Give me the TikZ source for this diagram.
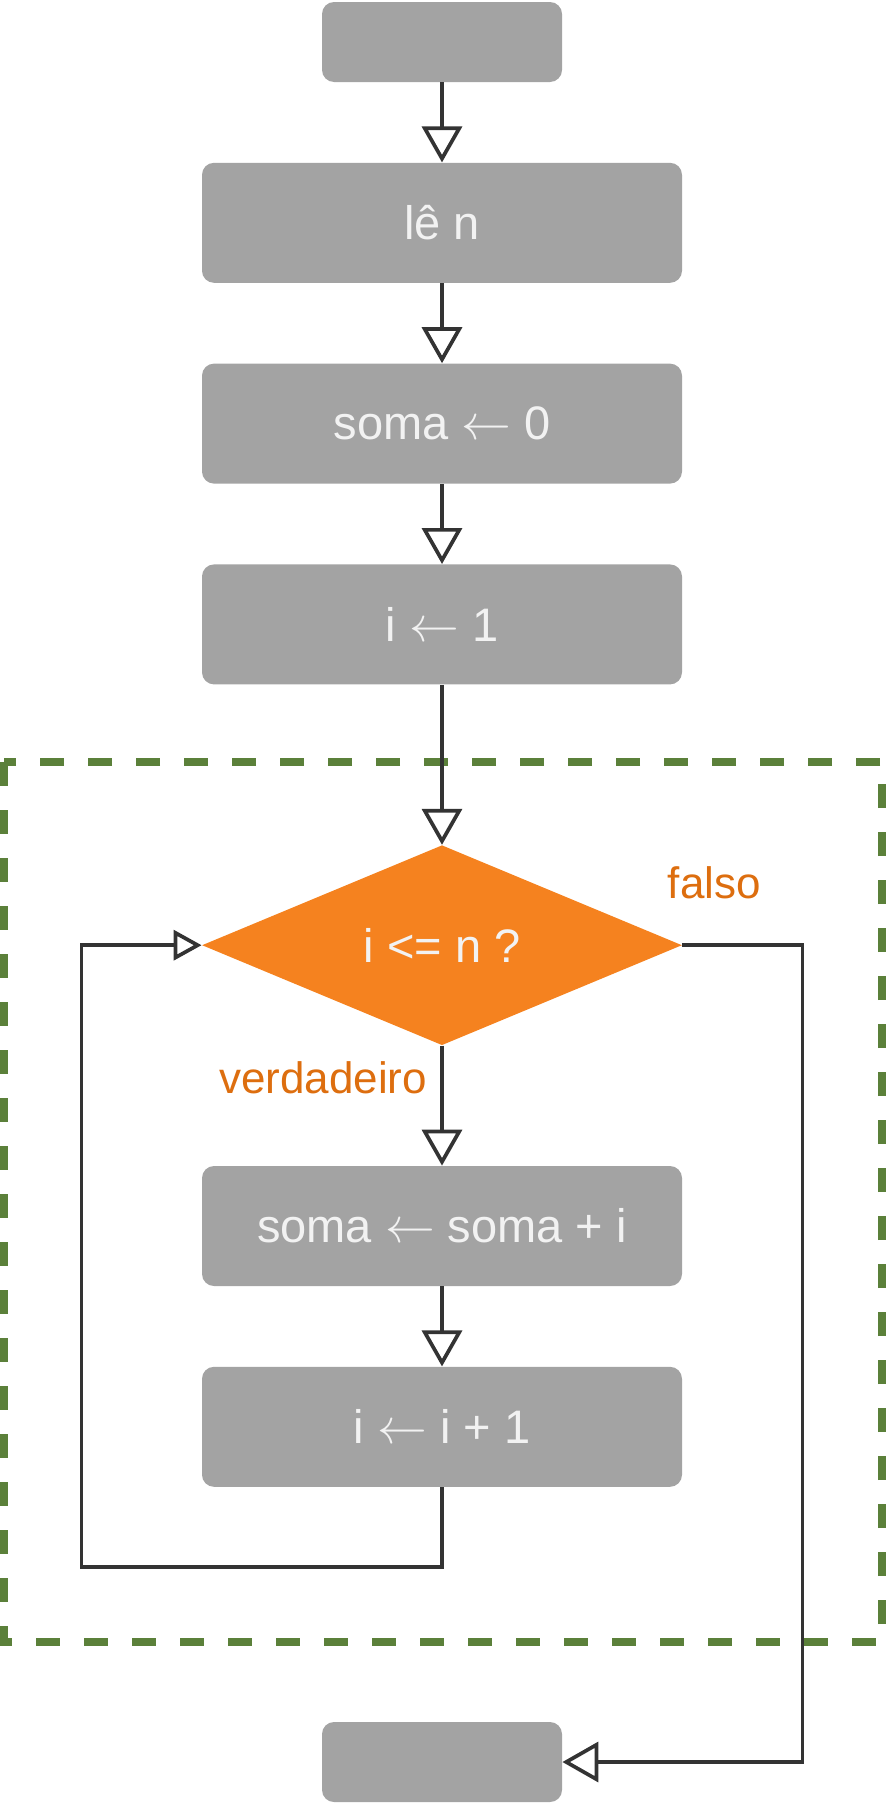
\documentclass[tikz,border=0pt]{standalone}
\usepackage{fontspec}
\setmainfont{Liberation Sans}
\usetikzlibrary{arrows.meta,positioning,shapes.geometric}
\definecolor{boxgray}{HTML}{A3A3A3}
\definecolor{condorange}{HTML}{F5821F}
\definecolor{lblorange}{HTML}{DD6E0F}
\definecolor{loopgreen}{HTML}{5B803A}
\definecolor{linegray}{HTML}{333333}
\tikzset{>={Triangle[open,length=18pt,width=20pt]},every node/.style={font=\fontsize{23.5}{28}\selectfont},
block/.style={fill=boxgray,rounded corners=6pt,minimum width=240pt,minimum height=60pt,text=white!95!black},
term/.style={block,minimum width=120pt,minimum height=40pt},
cond/.style={diamond,fill=condorange,minimum width=240pt,minimum height=100pt,inner sep=0pt,text=white!95!black},
flow/.style={draw=linegray,line width=1.85pt,->},
lbl/.style={text=lblorange,font=\fontsize{22}{26}\selectfont},
loopbox/.style={draw=loopgreen,line width=3.75pt,dash pattern=on 12pt off 12pt}}

\begin{document}
\begin{tikzpicture}[x=.5pt,y=-.5pt]
\useasboundingbox (0,0) rectangle (892,1804);
\draw[loopbox] (4,762) rectangle (882,1642);
\node[term] (start) at (442,42) {};
\node[block,below=40pt of start] (len) {lê n};
\node[block,below=40pt of len] (soma0) {soma $\leftarrow$ 0};
\node[block,below=40pt of soma0] (i1) {i $\leftarrow$ 1};
\node[cond,below=80pt of i1] (test) {i <= n ?};
\node[block,below=60pt of test] (acc) {soma $\leftarrow$ soma + i};
\node[block,below=40pt of acc] (inc) {i $\leftarrow$ i + 1};
\node[term] (stop) at (442,1762) {};
\foreach \a/\b in {start/len,soma0/i1,len/soma0,i1/test,test/acc,acc/inc}{\draw[flow] (\a)--(\b);}
\draw[flow,>={Triangle[open,length=14pt,width=15pt]}] (inc.south)--++(0,80)-|([xshift=-60pt]test.west)--(test.west);
\draw[flow] (test.east)--++(120,0)|-(stop.east);
\node[lbl,anchor=east] (truelbl) at ([xshift=-4pt,yshift=-16pt]test.south) {verdadeiro};
\node[lbl] (falselbl) at ([xshift=16pt,yshift=31pt]test.east) {falso};
\end{tikzpicture}
\end{document}
